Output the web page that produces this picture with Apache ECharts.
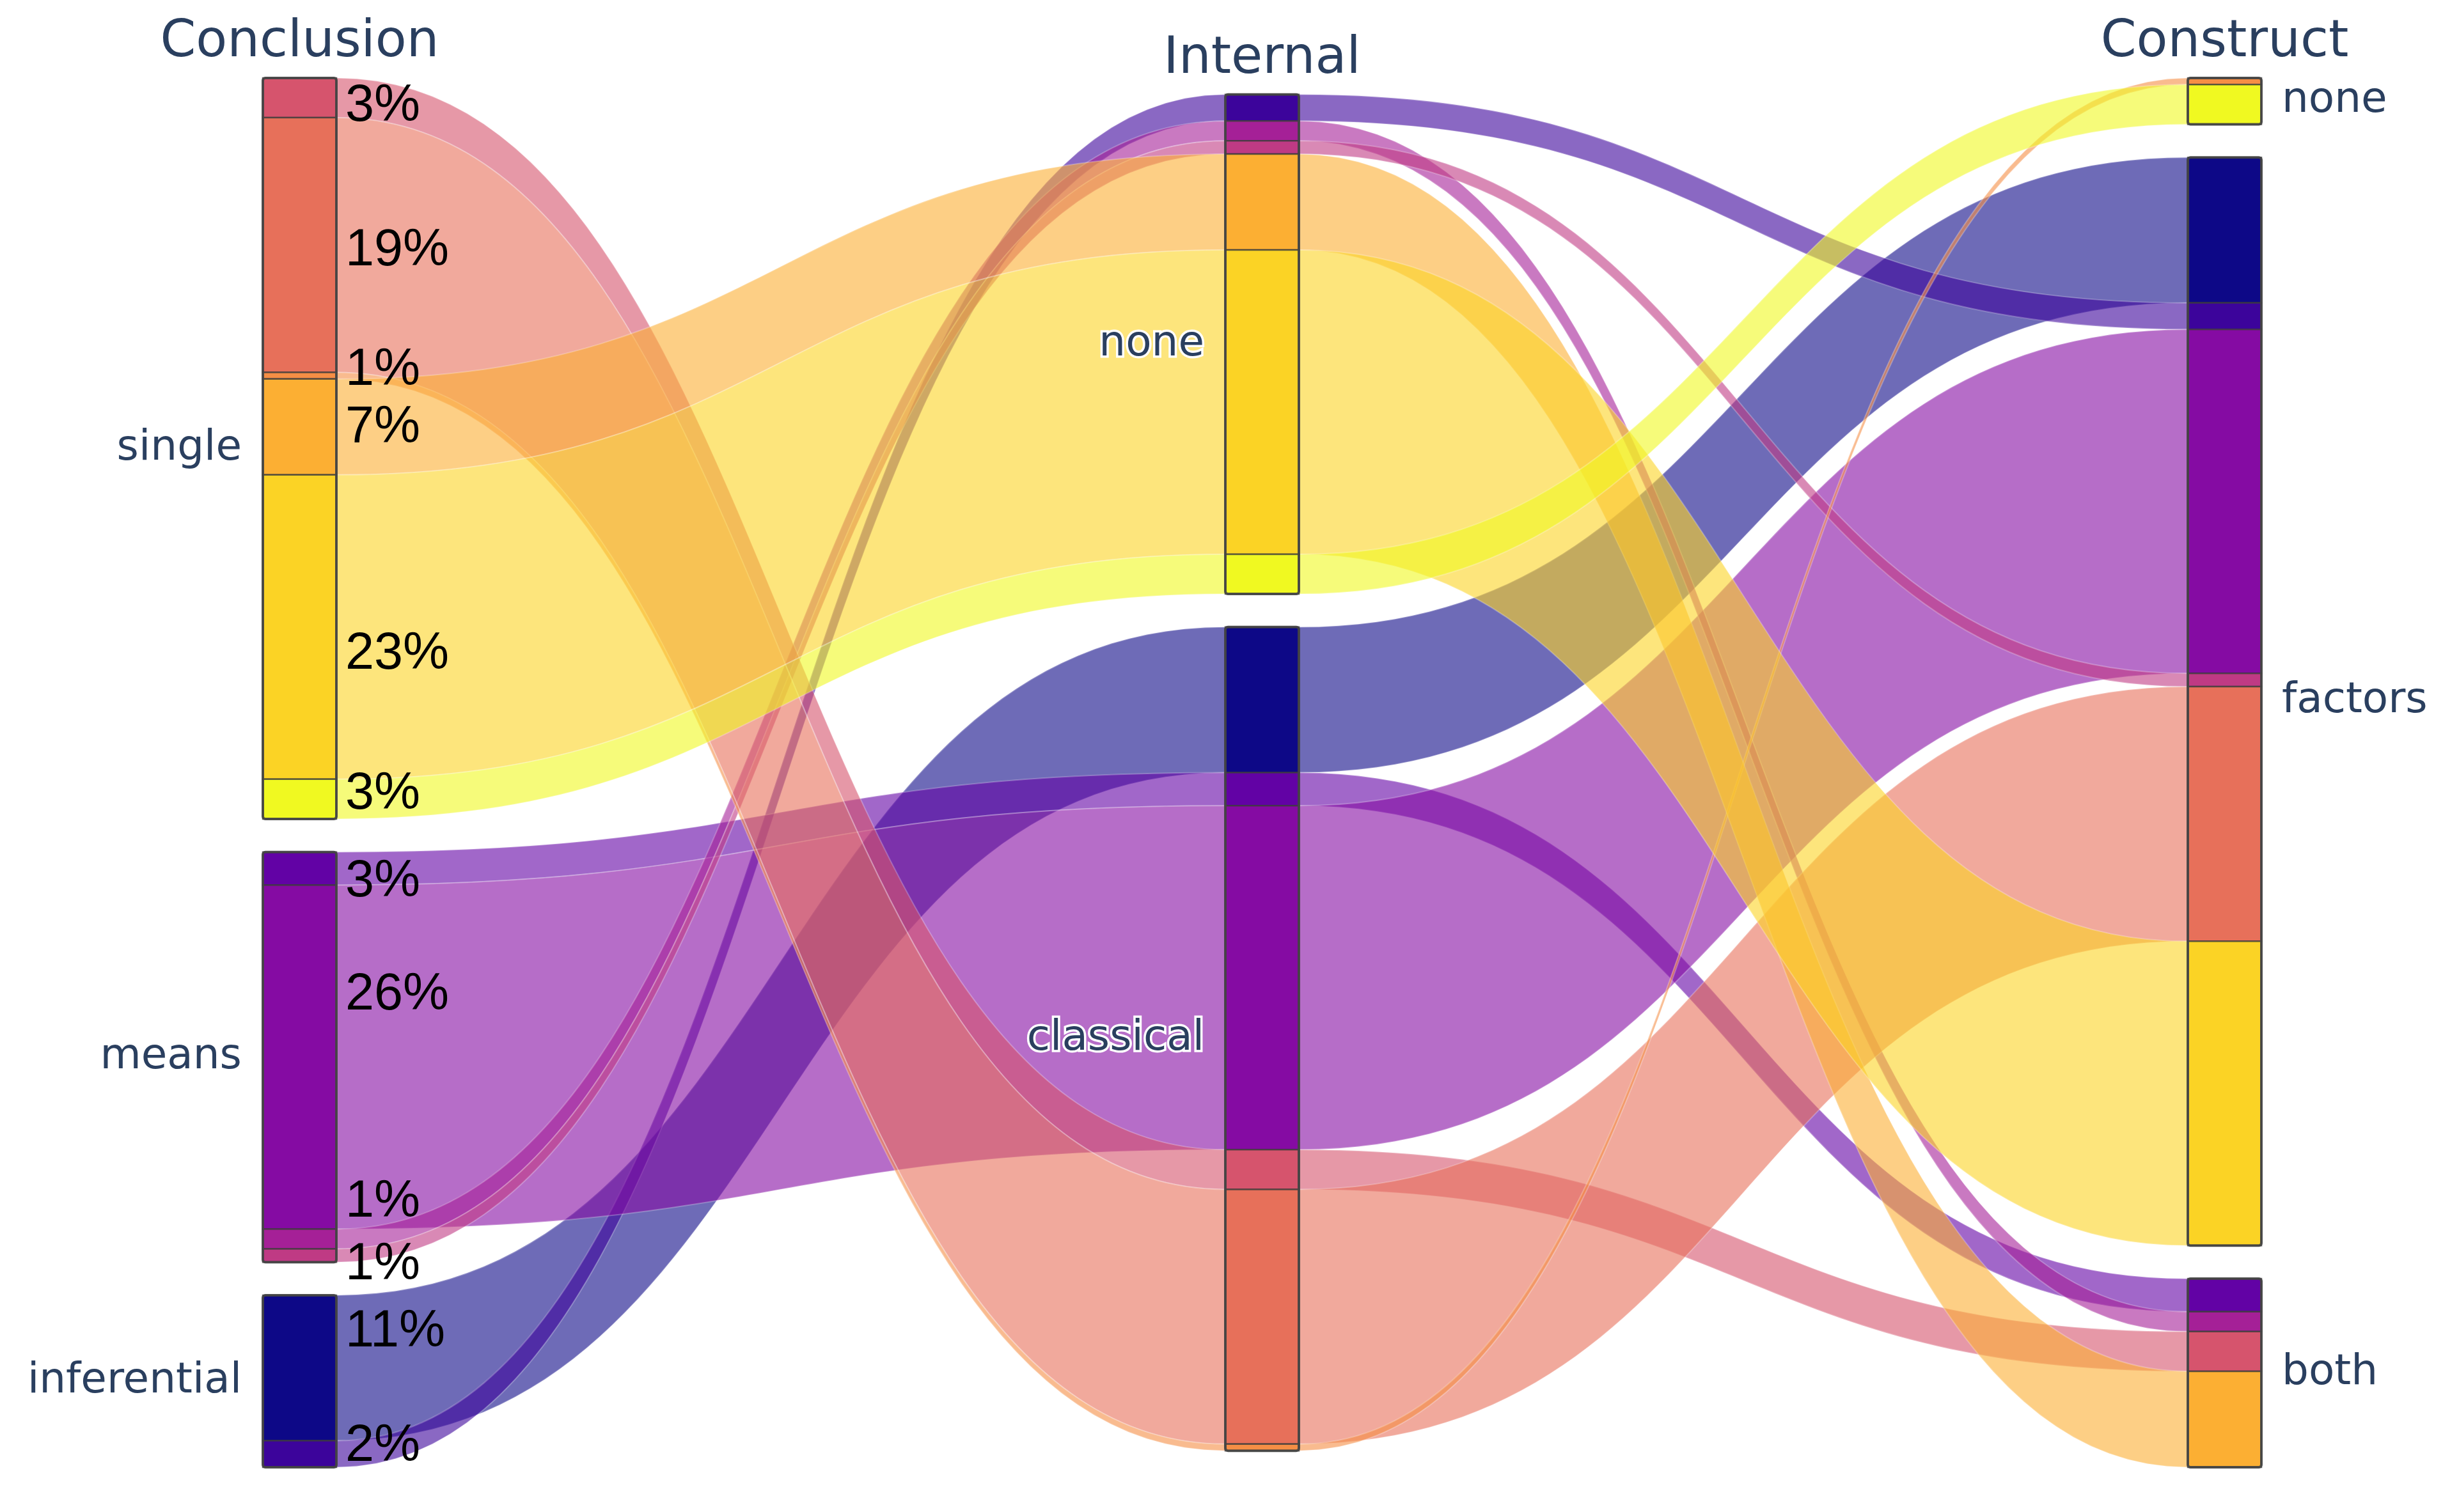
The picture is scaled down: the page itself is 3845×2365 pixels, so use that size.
<!DOCTYPE html>
<html>
<head>
<meta charset="utf-8">
<script src="https://cdn.jsdelivr.net/npm/echarts@6/dist/echarts.min.js"></script>
<style>
html,body{margin:0;padding:0;background:#ffffff;}
#chart{width:3845px;height:2365px;}
</style>
</head>
<body>
<div id="chart"></div>
<script>
// ---------------- data ----------------
const dimensions = ['Conclusion', 'Internal', 'Construct'];
const conclusionCategories = ['single', 'means', 'inferential'];
const internalCategories = ['none', 'classical'];
const constructCategories = ['none', 'factors', 'both'];
// one entry per combination (path); order = colour order
const pathConclusion = ['inferential', 'inferential', 'means', 'means', 'means', 'means', 'single', 'single', 'single', 'single', 'single', 'single'];
const pathInternal   = ['classical', 'none', 'classical', 'classical', 'none', 'none', 'classical', 'classical', 'classical', 'none', 'none', 'none'];
const pathConstruct  = ['factors', 'factors', 'both', 'factors', 'both', 'factors', 'both', 'factors', 'none', 'both', 'factors', 'none'];
const pathCount      = [22, 4, 5, 52, 3, 2, 6, 38.5, 1, 14.5, 46, 6];
// share labels printed beside the Conclusion bar, top to bottom
const shareLabels = ['3%', '19%', '1%', '7%', '23%', '3%', '3%', '26%', '1%', '1%', '11%', '2%'];

// ---------------- layout / style constants ----------------
const GAP = 5;          // gap between categories, in count units
const BAR_W = 115;      // bar width in px
const labelNudge = [1.3, 0.9, -0.8, 0.2, 4.1, -0.7, 2.0, -9.4, -5.5, 1.4, -5.4, -1.1];
const plasma = ['#0d0887', '#46039f', '#7201a8', '#9c179e', '#bd3786', '#d8576b', '#ed7953', '#fb9f3a', '#fdca26', '#f0f921'];
const TEXT_COLOR = '#2a3f5f';

function hexToRgb(h) { return [1, 3, 5].map(i => parseInt(h.slice(i, i + 2), 16)); }
function plasmaAt(t) {
  const n = plasma.length - 1;
  const p = t * n;
  const i = Math.min(Math.floor(p), n - 1);
  const f = p - i;
  const a = hexToRgb(plasma[i]), b = hexToRgb(plasma[i + 1]);
  return a.map((v, j) => Math.round(v + (b[j] - v) * f));
}
const pathRgb = pathCount.map((_, k) => plasmaAt(k / (pathCount.length - 1)));
const solid = k => 'rgb(' + pathRgb[k].join(',') + ')';
const translucent = k => 'rgba(' + pathRgb[k].join(',') + ',0.6)';

// ---------------- parallel-categories layout (in count units) ----------------
const catLists = [conclusionCategories, internalCategories, constructCategories];
const pathCats = [pathConclusion, pathInternal, pathConstruct];
const N = pathCount.reduce((a, b) => a + b, 0);
const maxCats = Math.max(...catLists.map(c => c.length));
const Y_MAX = N + (maxCats - 1) * GAP;

const seg = [];          // seg[d][k] = [y0, y1]
const catData = [];      // [d, y0, y1, catIndex]
const dimTop = [];
catLists.forEach((list, d) => {
  const total = N + (list.length - 1) * GAP;
  let y = (Y_MAX - total) / 2;
  dimTop[d] = y;
  seg[d] = [];
  list.forEach((name, ci) => {
    const y0 = y;
    pathCount.forEach((c, k) => {
      if (pathCats[d][k] === name) { seg[d][k] = [y, y + c]; y += c; }
    });
    catData.push([d, y0, y, ci]);
    y += GAP;
  });
});

const ribbonData = [];
pathCount.forEach((c, k) => {
  for (let d = 0; d < dimensions.length - 1; d++) {
    ribbonData.push([d, seg[d][k][0], seg[d][k][1], seg[d + 1][k][0], seg[d + 1][k][1], k]);
  }
});
const segData = [];
for (let d = 0; d < dimensions.length; d++) {
  pathCount.forEach((c, k) => segData.push([d, seg[d][k][0], seg[d][k][1], k]));
}
// share labels follow the Conclusion segments, top to bottom
const conclusionOrder = pathCount.map((c, k) => k).sort((a, b) => seg[0][a][0] - seg[0][b][0]);
const shareData = conclusionOrder.map((k, i) => [0, (seg[0][k][0] + seg[0][k][1]) / 2 + labelNudge[i], i]);
const headData = dimensions.map((name, d) => [d, dimTop[d], d]);

// ---------------- chart ----------------
const chart = echarts.init(document.getElementById('chart'), null, { renderer: 'canvas' });

const option = {
  backgroundColor: '#ffffff',
  animation: false,
  grid: { left: 411, width: 3010, top: 122, height: 2173 },
  xAxis: { type: 'value', min: 0, max: 2, show: false },
  yAxis: { type: 'value', min: 0, max: Y_MAX, inverse: true, show: false },
  series: [
    {
      type: 'custom', name: 'ribbons', z: 1, silent: true, clip: false,
      data: ribbonData,
      encode: { x: 0, y: 1 },
      renderItem: function (params, api) {
        const d = api.value(0), k = api.value(5);
        const a0 = api.coord([d, api.value(1)]), a1 = api.coord([d, api.value(2)]);
        const b0 = api.coord([d + 1, api.value(3)]), b1 = api.coord([d + 1, api.value(4)]);
        const xa = a0[0] + BAR_W, xb = b0[0], xm = (xa + xb) / 2;
        const xac = a0[0] + BAR_W / 2, xbc = b0[0] + BAR_W / 2;
        const p = 'M' + xac + ',' + a0[1] + ' L' + xa + ',' + a0[1] +
          ' C' + xm + ',' + a0[1] + ' ' + xm + ',' + b0[1] + ' ' + xb + ',' + b0[1] +
          ' L' + xbc + ',' + b0[1] + ' L' + xbc + ',' + b1[1] + ' L' + xb + ',' + b1[1] +
          ' C' + xm + ',' + b1[1] + ' ' + xm + ',' + a1[1] + ' ' + xa + ',' + a1[1] +
          ' L' + xac + ',' + a1[1] + ' Z';
        return {
          type: 'path',
          shape: { pathData: p },
          style: { fill: translucent(k), stroke: 'rgba(255,255,255,0.25)', lineWidth: 2 }
        };
      }
    },
    {
      type: 'custom', name: 'segments', z: 2, silent: true, clip: false,
      data: segData,
      encode: { x: 0, y: 1 },
      renderItem: function (params, api) {
        const d = api.value(0), k = api.value(3);
        const p0 = api.coord([d, api.value(1)]), p1 = api.coord([d, api.value(2)]);
        return {
          type: 'rect',
          shape: { x: p0[0], y: p0[1], width: BAR_W, height: p1[1] - p0[1] },
          style: { fill: solid(k), stroke: 'rgba(60,60,60,0.75)', lineWidth: 2.5 }
        };
      }
    },
    {
      type: 'custom', name: 'categories', z: 3, silent: true, clip: false,
      data: catData,
      encode: { x: 0, y: 1 },
      renderItem: function (params, api) {
        const d = api.value(0), ci = api.value(3);
        const p0 = api.coord([d, api.value(1)]), p1 = api.coord([d, api.value(2)]);
        const last = d === dimensions.length - 1;
        return {
          type: 'group',
          children: [
            {
              type: 'rect',
              shape: { x: p0[0], y: p0[1], width: BAR_W, height: p1[1] - p0[1], r: 4 },
              style: { fill: null, stroke: 'rgba(68,68,68,0.9)', lineWidth: 4 }
            },
            {
              type: 'text', z2: 10,
              x: last ? p0[0] + BAR_W + 32 : p0[0] - 33,
              y: (p0[1] + p1[1]) / 2,
              style: {
                text: catLists[d][ci],
                fill: TEXT_COLOR,
                fontSize: 66,
                fontFamily: '"DejaVu Sans", Verdana, sans-serif',
                align: last ? 'left' : 'right',
                verticalAlign: 'middle',
                stroke: '#ffffff',
                lineWidth: 7
              }
            }
          ]
        };
      }
    },
    {
      type: 'custom', name: 'headings', z: 4, silent: true, clip: false,
      data: headData,
      encode: { x: 0, y: 1 },
      renderItem: function (params, api) {
        const d = api.value(0);
        const p = api.coord([d, api.value(1)]);
        return {
          type: 'text',
          x: p[0] + BAR_W / 2,
          y: p[1] - 55,
          style: {
            text: dimensions[d],
            fill: TEXT_COLOR,
            fontSize: 80,
            fontFamily: '"DejaVu Sans", Verdana, sans-serif',
            align: 'center',
            verticalAlign: 'middle'
          }
        };
      }
    },
    {
      type: 'custom', name: 'shares', z: 5, silent: true, clip: false,
      data: shareData,
      encode: { x: 0, y: 1 },
      renderItem: function (params, api) {
        const p = api.coord([api.value(0), api.value(1)]);
        return {
          type: 'text',
          x: p[0] + BAR_W + 14,
          y: p[1],
          style: {
            text: shareLabels[api.value(2)],
            fill: '#000000',
            fontSize: 81,
            fontFamily: '"Liberation Sans", Arial, sans-serif',
            align: 'left',
            verticalAlign: 'middle'
          }
        };
      }
    }
  ]
};
chart.setOption(option);
</script>
</body>
</html>
